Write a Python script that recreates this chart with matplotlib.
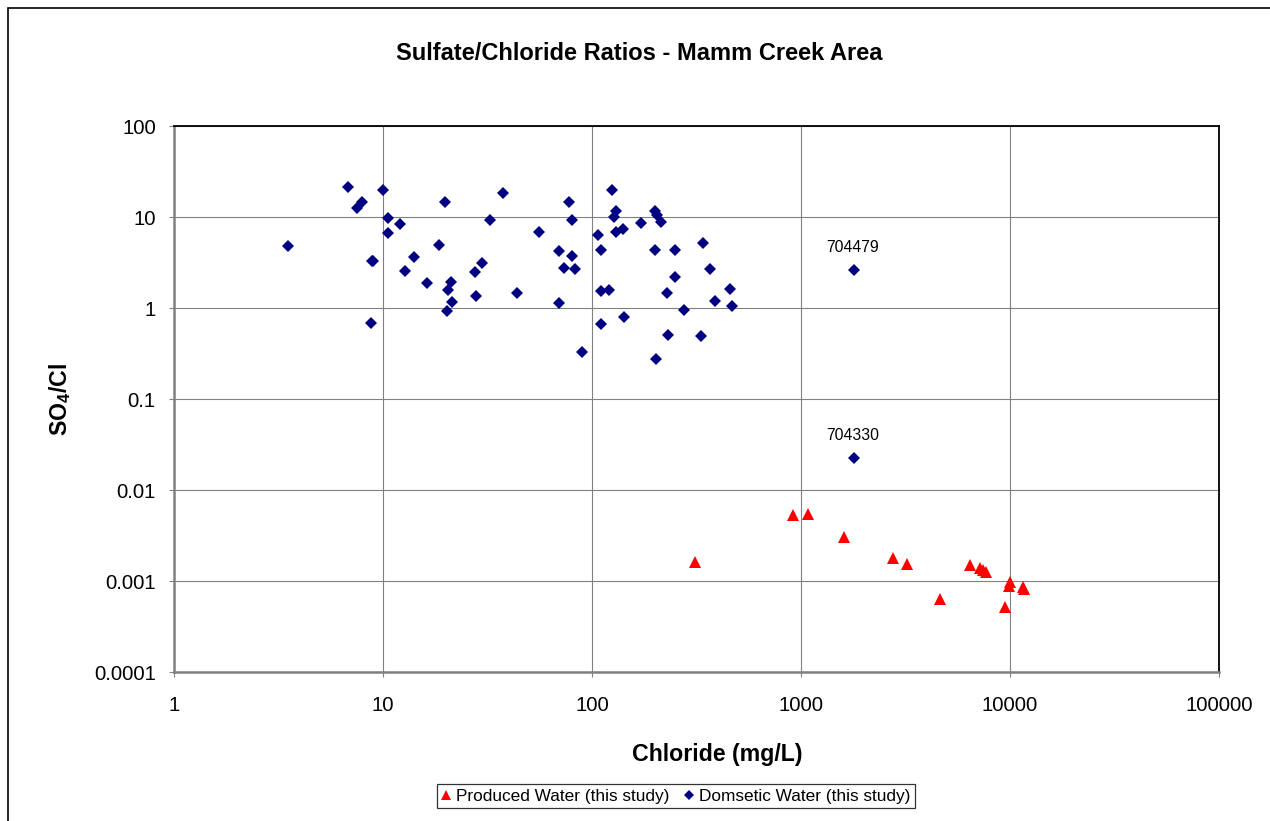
import matplotlib

matplotlib.use("Agg")
import matplotlib.pyplot as plt
from matplotlib.patches import Rectangle

plt.rcParams["font.family"] = ["Liberation Sans", "DejaVu Sans"]
plt.rcParams["mathtext.fontset"] = "custom"
plt.rcParams["mathtext.rm"] = "Liberation Sans"
plt.rcParams["mathtext.bf"] = "Liberation Sans:bold"

TITLE = "Sulfate/Chloride Ratios - Mamm Creek Area"

# produced water (red triangles)
produced_cl = [311, 919, 1077, 1606, 2755, 3227, 4642, 6457, 7181, 7453,
               7650, 10000, 9930, 11580, 11710, 9460]
produced_ratio = [0.00162, 0.00531, 0.00550, 0.00307, 0.00180, 0.00153,
                  0.000630, 0.00151, 0.00139, 0.00132, 0.00127, 0.000968,
                  0.000887, 0.000853, 0.000823, 0.000518]

# domestic water (navy diamonds)
domestic_cl = [3.50, 6.78, 10.0, 7.96, 7.48, 10.6, 12.0, 10.6, 18.5, 19.9,
               37.5, 32.5, 55.6, 8.86, 8.99, 14.0, 12.8, 29.9, 27.5, 16.2,
               21.2, 20.5, 21.4, 20.3, 27.9, 43.8, 8.79, 69.3, 69.3, 77.6,
               80.0, 80.0, 73.5, 82.9, 89.3, 125, 130, 128, 107, 111,
               130, 140, 172, 200, 205, 214, 200, 249, 340, 368,
               250, 229, 459, 389, 469, 277, 110, 120, 143, 110,
               231, 331, 202]
domestic_ratio = [4.80, 21.5, 19.8, 14.7, 12.5, 9.8, 8.4, 6.7, 4.89, 14.5,
                  18.5, 9.27, 6.79, 3.31, 3.25, 3.66, 2.53, 3.10, 2.49, 1.87,
                  1.93, 1.58, 1.16, 0.927, 1.37, 1.45, 0.684, 4.26, 1.14, 14.5,
                  9.27, 3.73, 2.75, 2.70, 0.331, 19.8, 11.7, 10.1, 6.39, 4.31,
                  6.84, 7.38, 8.66, 11.7, 10.5, 8.74, 4.31, 4.31, 5.22, 2.70,
                  2.19, 1.47, 1.62, 1.19, 1.04, 0.958, 1.54, 1.58, 0.802, 0.662,
                  0.501, 0.492, 0.273]

# labelled domestic wells
labeled_ids = ["704479", "704330"]
labeled_cl = [1794, 1794]
labeled_ratio = [2.62, 0.0225]

x_ticks = [1, 10, 100, 1000, 10000, 100000]
x_tick_labels = ["1", "10", "100", "1000", "10000", "100000"]
y_ticks = [0.0001, 0.001, 0.01, 0.1, 1, 10, 100]
y_tick_labels = ["0.0001", "0.001", "0.01", "0.1", "1", "10", "100"]

RED = "#ff0000"
NAVY = "#000080"
GRID = "#808080"

fig = plt.figure(figsize=(12.7, 8.21), dpi=100)
ax = fig.add_axes([174 / 1270, 1 - 672 / 821, 1045 / 1270, 546 / 821])

# chart area border (continues past right/bottom edge of the image)
fig.patches.append(Rectangle((8 / 1270, -0.05), 1.1, 1 - 8 / 821 + 0.05,
                             transform=fig.transFigure, fill=False,
                             edgecolor="black", linewidth=1.2, clip_on=False))

ax.plot(produced_cl, produced_ratio, linestyle="none", marker="^",
        markersize=9, color=RED, markeredgewidth=0,
        label="Produced Water (this study)", zorder=3)
ax.plot(domestic_cl + labeled_cl, domestic_ratio + labeled_ratio,
        linestyle="none", marker="D", markersize=6.3, color=NAVY,
        markeredgewidth=0, label="Domsetic Water (this study)", zorder=3)

for name, x, y in zip(labeled_ids, labeled_cl, labeled_ratio):
    ax.annotate(name, (x, y), xytext=(-1, 16), textcoords="offset points",
                ha="center", va="center", fontsize=11.3)

ax.set_xscale("log")
ax.set_yscale("log")
ax.set_xlim(1, 100000)
ax.set_ylim(0.0001, 100)
ax.set_xticks(x_ticks)
ax.set_xticklabels(x_tick_labels)
ax.set_yticks(y_ticks)
ax.set_yticklabels(y_tick_labels)
ax.minorticks_off()
ax.tick_params(axis="both", direction="out", length=3.6, width=0.8,
               color=GRID, labelsize=14.7)
ax.tick_params(axis="x", pad=14)
ax.tick_params(axis="y", pad=9.5)
ax.grid(True, color=GRID, linewidth=0.8)
ax.set_axisbelow(True)

for side in ("top", "right"):
    ax.spines[side].set_color("black")
    ax.spines[side].set_linewidth(1.3)
for side in ("left", "bottom"):
    ax.spines[side].set_color(GRID)
    ax.spines[side].set_linewidth(1.8)

ax.set_xlabel("Chloride (mg/L)", fontsize=16.7, fontweight="bold")
ax.xaxis.set_label_coords((717 - 174) / 1045, (672 - 743) / 546)
ax.set_ylabel(r"$\mathbf{SO_4/Cl}$", fontsize=16.7)
ax.yaxis.set_label_coords((73 - 174) / 1045, 0.5)

fig.text(639.5 / 1270, 1 - 53 / 821, TITLE, ha="center", va="center",
         fontsize=17, fontweight="bold")

leg = fig.legend(loc="center", bbox_to_anchor=(675.6 / 1270, 1 - 796 / 821),
                 ncol=2, fontsize=12.4, frameon=True, fancybox=False,
                 markerscale=0.75, handlelength=0.6, handletextpad=0.3,
                 columnspacing=0.8, borderpad=0.25, borderaxespad=0)
leg.get_frame().set_edgecolor("black")
leg.get_frame().set_linewidth(0.9)

fig.savefig("out.png", dpi=100)
plt.close(fig)
